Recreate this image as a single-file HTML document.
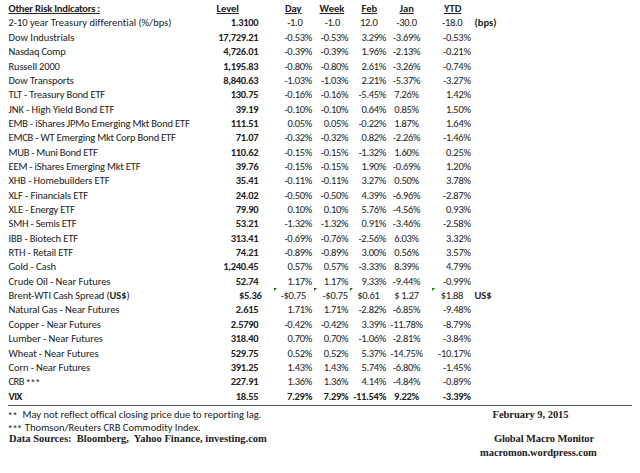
<!DOCTYPE html>
<html><head><meta charset="utf-8"><title>Other Risk Indicators</title>
<script>
(function(){try{var c=document.createElement("canvas").getContext("2d"),s="mmmwwwiiilll0123456789";
c.font="40px monospace";var a=c.measureText(s).width;c.font="40px Carlito, monospace";var b=c.measureText(s).width;
if(Math.abs(a-b)<0.01)document.documentElement.className="nc";}catch(e){}})();
</script>
<style>
html,body{margin:0;padding:0;background:#fff;}
body{width:640px;height:473px;position:relative;overflow:hidden;
 font-family:Carlito,"Liberation Sans",sans-serif;font-size:10.5px;color:#222;}
.row{position:absolute;left:0;width:640px;height:14px;line-height:14px;}
.row > span{position:absolute;top:0;white-space:nowrap;}
.ast{font-family:"Liberation Sans",sans-serif;font-size:9px;letter-spacing:1.1px;}
body{font-variant-ligatures:none;font-feature-settings:"liga" 0,"clig" 0;}
.l{left:8.5px;}
.r{text-align:right;}
.c{width:60px;text-align:center;}
.b{font-weight:bold;}
.u{text-decoration:underline;text-underline-offset:0.5px;text-decoration-thickness:1px;}
.n{letter-spacing:-0.3px;}
.tri{position:absolute;top:-1.3px;width:0;height:0;border-top:3.4px solid #0b7a0b;border-right:3.4px solid transparent;}
.hl{position:absolute;left:8px;top:405px;width:623.5px;height:1px;background:#4d4d4d;}
.ft{position:absolute;white-space:nowrap;line-height:14px;}
.nc body{font-size:9.4px;}
.nc .n{letter-spacing:-0.1px;}
.sf{font-family:"Liberation Serif","Times New Roman",serif;font-weight:bold;font-size:10.5px;}
</style></head><body>
<div class="row" style="top:2.10px"><span class="l b u" style="letter-spacing:-0.2px">Other Risk Indicators :</span><span class="a b u" style="left:216.5px">Level</span><span class="a b u" style="left:285px">Day</span><span class="a b u" style="left:319.5px">Week</span><span class="a b u" style="left:361.5px">Feb</span><span class="a b u" style="left:399.5px">Jan</span><span class="a b u" style="left:444px">YTD</span></div><div class="row" style="top:16.45px"><span class="l " style="letter-spacing:-0.011px">2-10 year Treasury differential (%/bps)</span><span class="r b n" style="right:381.70px">1.3100</span><span class="r n" style="right:337.50px">-1.0</span><span class="r n" style="right:300.00px">-1.0</span><span class="r n" style="right:262.50px">12.0</span><span class="c n" style="left:376.50px">-30.0</span><span class="r n" style="right:177.70px">-18.0</span><span class="a b" style="left:474.5px">(bps)</span></div><div class="row" style="top:30.80px"><span class="l " style="letter-spacing:-0.021px">Dow Industrials</span><span class="r b n" style="right:381.70px">17,729.21</span><span class="r n " style="right:328.00px">-0.53%</span><span class="r n " style="right:291.70px">-0.53%</span><span class="r n " style="right:254.00px">3.29%</span><span class="c n " style="left:376.50px">-3.69%</span><span class="r n " style="right:169.40px">-0.53%</span></div><div class="row" style="top:45.15px"><span class="l " style="letter-spacing:-0.210px">Nasdaq Comp</span><span class="r b n" style="right:381.70px">4,726.01</span><span class="r n " style="right:328.00px">-0.39%</span><span class="r n " style="right:291.70px">-0.39%</span><span class="r n " style="right:254.00px">1.96%</span><span class="c n " style="left:376.50px">-2.13%</span><span class="r n " style="right:169.40px">-0.21%</span></div><div class="row" style="top:59.50px"><span class="l " style="letter-spacing:-0.155px">Russell 2000</span><span class="r b n" style="right:381.70px">1,195.83</span><span class="r n " style="right:328.00px">-0.80%</span><span class="r n " style="right:291.70px">-0.80%</span><span class="r n " style="right:254.00px">2.61%</span><span class="c n " style="left:376.50px">-3.26%</span><span class="r n " style="right:169.40px">-0.74%</span></div><div class="row" style="top:73.85px"><span class="l " style="letter-spacing:-0.100px">Dow Transports</span><span class="r b n" style="right:381.70px">8,840.63</span><span class="r n " style="right:328.00px">-1.03%</span><span class="r n " style="right:291.70px">-1.03%</span><span class="r n " style="right:254.00px">2.21%</span><span class="c n " style="left:376.50px">-5.37%</span><span class="r n " style="right:169.40px">-3.27%</span></div><div class="row" style="top:88.20px"><span class="l " style="letter-spacing:-0.164px">TLT - Treasury Bond ETF</span><span class="r b n" style="right:381.70px">130.75</span><span class="r n " style="right:328.00px">-0.16%</span><span class="r n " style="right:291.70px">-0.16%</span><span class="r n " style="right:254.00px">-5.45%</span><span class="c n " style="left:376.50px">7.26%</span><span class="r n " style="right:169.40px">1.42%</span></div><div class="row" style="top:102.55px"><span class="l " style="letter-spacing:-0.083px">JNK - High Yield Bond ETF</span><span class="r b n" style="right:381.70px">39.19</span><span class="r n " style="right:328.00px">-0.10%</span><span class="r n " style="right:291.70px">-0.10%</span><span class="r n " style="right:254.00px">0.64%</span><span class="c n " style="left:376.50px">0.85%</span><span class="r n " style="right:169.40px">1.50%</span></div><div class="row" style="top:116.90px"><span class="l " style="letter-spacing:-0.177px">EMB - iShares JPMo Emerging Mkt Bond ETF</span><span class="r b n" style="right:381.70px">111.51</span><span class="r n " style="right:328.00px">0.05%</span><span class="r n " style="right:291.70px">0.05%</span><span class="r n " style="right:254.00px">-0.22%</span><span class="c n " style="left:376.50px">1.87%</span><span class="r n " style="right:169.40px">1.64%</span></div><div class="row" style="top:131.25px"><span class="l " style="letter-spacing:-0.211px">EMCB - WT Emerging Mkt Corp Bond ETF</span><span class="r b n" style="right:381.70px">71.07</span><span class="r n " style="right:328.00px">-0.32%</span><span class="r n " style="right:291.70px">-0.32%</span><span class="r n " style="right:254.00px">0.82%</span><span class="c n " style="left:376.50px">-2.26%</span><span class="r n " style="right:169.40px">-1.46%</span></div><div class="row" style="top:145.60px"><span class="l " style="letter-spacing:-0.261px">MUB - Muni Bond ETF</span><span class="r b n" style="right:381.70px">110.62</span><span class="r n " style="right:328.00px">-0.15%</span><span class="r n " style="right:291.70px">-0.15%</span><span class="r n " style="right:254.00px">-1.32%</span><span class="c n " style="left:376.50px">1.60%</span><span class="r n " style="right:169.40px">0.25%</span></div><div class="row" style="top:159.95px"><span class="l " style="letter-spacing:-0.183px">EEM - iShares Emerging Mkt ETF</span><span class="r b n" style="right:381.70px">39.76</span><span class="r n " style="right:328.00px">-0.15%</span><span class="r n " style="right:291.70px">-0.15%</span><span class="r n " style="right:254.00px">1.90%</span><span class="c n " style="left:376.50px">-0.69%</span><span class="r n " style="right:169.40px">1.20%</span></div><div class="row" style="top:174.30px"><span class="l " style="letter-spacing:-0.095px">XHB - Homebuilders ETF</span><span class="r b n" style="right:381.70px">35.41</span><span class="r n " style="right:328.00px">-0.11%</span><span class="r n " style="right:291.70px">-0.11%</span><span class="r n " style="right:254.00px">3.27%</span><span class="c n " style="left:376.50px">0.50%</span><span class="r n " style="right:169.40px">3.78%</span></div><div class="row" style="top:188.65px"><span class="l " style="letter-spacing:-0.121px">XLF - Financials ETF</span><span class="r b n" style="right:381.70px">24.02</span><span class="r n " style="right:328.00px">-0.50%</span><span class="r n " style="right:291.70px">-0.50%</span><span class="r n " style="right:254.00px">4.39%</span><span class="c n " style="left:376.50px">-6.96%</span><span class="r n " style="right:169.40px">-2.87%</span></div><div class="row" style="top:203.00px"><span class="l " style="letter-spacing:-0.200px">XLE - Energy ETF</span><span class="r b n" style="right:381.70px">79.90</span><span class="r n " style="right:328.00px">0.10%</span><span class="r n " style="right:291.70px">0.10%</span><span class="r n " style="right:254.00px">5.76%</span><span class="c n " style="left:376.50px">-4.56%</span><span class="r n " style="right:169.40px">0.93%</span></div><div class="row" style="top:217.35px"><span class="l " style="letter-spacing:-0.193px">SMH - Semis ETF</span><span class="r b n" style="right:381.70px">53.21</span><span class="r n " style="right:328.00px">-1.32%</span><span class="r n " style="right:291.70px">-1.32%</span><span class="r n " style="right:254.00px">0.91%</span><span class="c n " style="left:376.50px">-3.46%</span><span class="r n " style="right:169.40px">-2.58%</span></div><div class="row" style="top:231.70px"><span class="l " style="letter-spacing:-0.138px">IBB - Biotech ETF</span><span class="r b n" style="right:381.70px">313.41</span><span class="r n " style="right:328.00px">-0.69%</span><span class="r n " style="right:291.70px">-0.76%</span><span class="r n " style="right:254.00px">-2.56%</span><span class="c n " style="left:376.50px">6.03%</span><span class="r n " style="right:169.40px">3.32%</span></div><div class="row" style="top:246.05px"><span class="l " style="letter-spacing:-0.133px">RTH - Retail ETF</span><span class="r b n" style="right:381.70px">74.21</span><span class="r n " style="right:328.00px">-0.89%</span><span class="r n " style="right:291.70px">-0.89%</span><span class="r n " style="right:254.00px">3.00%</span><span class="c n " style="left:376.50px">0.56%</span><span class="r n " style="right:169.40px">3.57%</span></div><div class="row" style="top:260.40px"><span class="l " style="letter-spacing:-0.080px">Gold - Cash</span><span class="r b n" style="right:381.70px">1,240.45</span><span class="r n " style="right:328.00px">0.57%</span><span class="r n " style="right:291.70px">0.57%</span><span class="r n " style="right:254.00px">-3.33%</span><span class="c n " style="left:376.50px">8.39%</span><span class="r n " style="right:169.40px">4.79%</span></div><div class="row" style="top:274.75px"><span class="l " style="letter-spacing:-0.043px">Crude Oil - Near Futures</span><span class="r b n" style="right:381.70px">52.74</span><span class="r n " style="right:328.00px">1.17%</span><span class="r n " style="right:291.70px">1.17%</span><span class="r n " style="right:254.00px">9.33%</span><span class="c n " style="left:376.50px">-9.44%</span><span class="r n " style="right:169.40px">-0.99%</span></div><div class="row" style="top:289.10px"><span class="l " style="letter-spacing:-0.108px">Brent-WTI Cash Spread (<b>US$</b>)</span><span class="r b n" style="right:378.40px">$5.36</span><span class="r n" style="right:334.00px">-$0.75</span><span class="r n" style="right:292.20px">-$0.75</span><span class="r n" style="right:260.40px">$0.61</span><span class="c n" style="left:376.50px">$ 1.27</span><span class="r n" style="right:176.90px">$1.88</span><span class="a b" style="left:474.5px">US$</span><i class="tri" style="left:274.0px"></i><i class="tri" style="left:314.3px"></i><i class="tri" style="left:350.4px"></i><i class="tri" style="left:431.7px"></i></div><div class="row" style="top:303.45px"><span class="l " style="letter-spacing:-0.084px">Natural Gas - Near Futures</span><span class="r b n" style="right:381.70px">2.615</span><span class="r n " style="right:328.00px">1.71%</span><span class="r n " style="right:291.70px">1.71%</span><span class="r n " style="right:254.00px">-2.82%</span><span class="c n " style="left:376.50px">-6.85%</span><span class="r n " style="right:169.40px">-9.48%</span></div><div class="row" style="top:317.80px"><span class="l " style="letter-spacing:-0.095px">Copper - Near Futures</span><span class="r b n" style="right:381.70px">2.5790</span><span class="r n " style="right:328.00px">-0.42%</span><span class="r n " style="right:291.70px">-0.42%</span><span class="r n " style="right:254.00px">3.39%</span><span class="c n " style="left:376.50px">-11.78%</span><span class="r n " style="right:169.40px">-8.79%</span></div><div class="row" style="top:332.15px"><span class="l " style="letter-spacing:-0.080px">Lumber - Near Futures</span><span class="r b n" style="right:381.70px">318.40</span><span class="r n " style="right:328.00px">0.70%</span><span class="r n " style="right:291.70px">0.70%</span><span class="r n " style="right:254.00px">-1.06%</span><span class="c n " style="left:376.50px">-2.81%</span><span class="r n " style="right:169.40px">-3.84%</span></div><div class="row" style="top:346.50px"><span class="l " style="letter-spacing:-0.089px">Wheat - Near Futures</span><span class="r b n" style="right:381.70px">529.75</span><span class="r n " style="right:328.00px">0.52%</span><span class="r n " style="right:291.70px">0.52%</span><span class="r n " style="right:254.00px">5.37%</span><span class="c n " style="left:376.50px">-14.75%</span><span class="r n " style="right:169.40px">-10.17%</span></div><div class="row" style="top:360.85px"><span class="l " style="letter-spacing:-0.111px">Corn - Near Futures</span><span class="r b n" style="right:381.70px">391.25</span><span class="r n " style="right:328.00px">1.43%</span><span class="r n " style="right:291.70px">1.43%</span><span class="r n " style="right:254.00px">5.74%</span><span class="c n " style="left:376.50px">-6.80%</span><span class="r n " style="right:169.40px">-1.45%</span></div><div class="row" style="top:375.20px"><span class="l " style="letter-spacing:0.000px"><span style="letter-spacing:-0.5px">CRB</span> <span class="ast" style="letter-spacing:1.25px">***</span></span><span class="r b n" style="right:381.70px">227.91</span><span class="r n " style="right:328.00px">1.36%</span><span class="r n " style="right:291.70px">1.36%</span><span class="r n " style="right:254.00px">4.14%</span><span class="c n " style="left:376.50px">-4.84%</span><span class="r n " style="right:169.40px">-0.89%</span></div><div class="row" style="top:389.55px"><span class="l b" style="letter-spacing:-0.450px">VIX</span><span class="r b n" style="right:381.70px">18.55</span><span class="r n b" style="right:328.00px">7.29%</span><span class="r n b" style="right:291.70px">7.29%</span><span class="r n b" style="right:254.00px">-11.54%</span><span class="c n b" style="left:376.50px">9.22%</span><span class="r n b" style="right:169.40px">-3.39%</span></div>
<div class="hl"></div>
<div class="ft" style="left:8.6px;top:408.00px"><span class="ast">**</span>&nbsp; May not reflect offical closing price due to reporting lag.</div>
<div class="ft" style="left:8.6px;top:421.00px"><span class="ast">***</span> Thomson/Reuters CRB Commodity Index.</div>
<div class="ft sf" style="left:9px;top:432.00px">Data Sources:&nbsp; Bloomberg,&nbsp; Yahoo Finance, investing.com</div>
<div class="ft sf" style="left:492.6px;top:407.60px;letter-spacing:-0.05px">February 9, 2015</div>
<div class="ft sf" style="left:493.9px;top:431.90px;letter-spacing:-0.12px">Global Macro Monitor</div>
<div class="ft sf" style="left:480.1px;top:446.20px;letter-spacing:-0.09px">macromon.wordpress.com</div>
</body></html>
